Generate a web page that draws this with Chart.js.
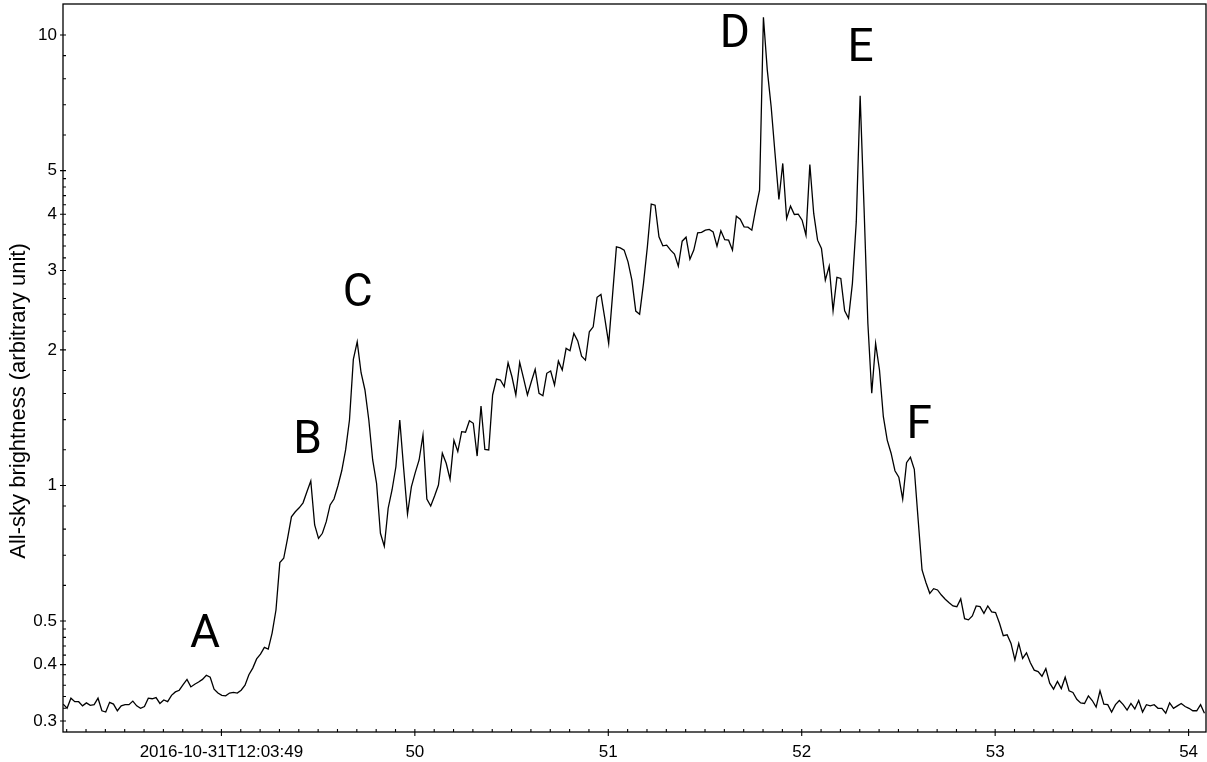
<!DOCTYPE html>
<html>
<head>
<meta charset="utf-8">
<script src="https://cdn.jsdelivr.net/npm/chart.js@4.4.1/dist/chart.umd.min.js"></script>
<style>
  html, body { margin: 0; padding: 0; background: #fff; }
  #wrap { width: 1207px; height: 762px; }
</style>
</head>
<body>
<div id="wrap"><canvas id="lc" width="1207" height="762"></canvas></div>
<script>
// Light curve sampling: seconds after 2016-10-31T12:03:00, one sample every 20 ms
const sampleStart = 48.182;
const sampleStep = 0.02;

// All-sky brightness (arbitrary unit), one value per sample
const brightness = [
  0.327, 0.320, 0.337, 0.331, 0.331, 0.324, 0.329, 0.325, 0.326, 0.337,
  0.316, 0.314, 0.330, 0.327, 0.316, 0.324, 0.326, 0.326, 0.332, 0.324,
  0.320, 0.323, 0.337, 0.336, 0.338, 0.328, 0.334, 0.331, 0.342, 0.348,
  0.351, 0.361, 0.371, 0.357, 0.362, 0.366, 0.371, 0.379, 0.375, 0.353,
  0.346, 0.342, 0.341, 0.346, 0.347, 0.346, 0.351, 0.360, 0.380, 0.393,
  0.412, 0.422, 0.437, 0.433, 0.470, 0.529, 0.674, 0.689, 0.763, 0.852,
  0.874, 0.892, 0.915, 0.968, 1.023, 0.817, 0.763, 0.783, 0.831, 0.905,
  0.933, 0.997, 1.078, 1.199, 1.397, 1.905, 2.084, 1.779, 1.629, 1.397,
  1.139, 1.011, 0.783, 0.733, 0.890, 0.977, 1.100, 1.397, 1.092, 0.864,
  0.993, 1.068, 1.139, 1.294, 0.933, 0.900, 0.947, 1.002, 1.179, 1.120,
  1.032, 1.259, 1.189, 1.316, 1.313, 1.392, 1.374, 1.162, 1.501, 1.202,
  1.199, 1.588, 1.722, 1.714, 1.657, 1.872, 1.743, 1.588, 1.876, 1.729,
  1.588, 1.699, 1.810, 1.602, 1.582, 1.774, 1.795, 1.671, 1.888, 1.804,
  2.015, 1.991, 2.176, 2.094, 1.937, 1.898, 2.194, 2.250, 2.616, 2.655,
  2.349, 2.067, 2.646, 3.386, 3.369, 3.330, 3.136, 2.857, 2.438, 2.400,
  2.809, 3.386, 4.212, 4.191, 3.564, 3.404, 3.416, 3.330, 3.263, 3.068,
  3.486, 3.558, 3.180, 3.330, 3.637, 3.646, 3.688, 3.701, 3.656, 3.399,
  3.675, 3.513, 3.504, 3.330, 3.962, 3.902, 3.750, 3.744, 3.688, 4.106,
  4.525, 10.95, 8.360, 6.929, 5.459, 4.315, 5.187, 3.916, 4.170, 3.996,
  4.002, 3.881, 3.595, 5.160, 4.017, 3.504, 3.359, 2.857, 3.068, 2.441,
  2.897, 2.881, 2.441, 2.349, 2.809, 3.847, 7.331, 4.155, 2.289, 1.602,
  2.067, 1.804, 1.421, 1.261, 1.179, 1.078, 1.043, 0.932, 1.123, 1.155,
  1.086, 0.838, 0.649, 0.609, 0.576, 0.590, 0.586, 0.571, 0.559, 0.549,
  0.540, 0.538, 0.560, 0.506, 0.503, 0.513, 0.540, 0.538, 0.520, 0.540,
  0.524, 0.522, 0.495, 0.464, 0.466, 0.446, 0.410, 0.446, 0.413, 0.425,
  0.404, 0.389, 0.386, 0.377, 0.392, 0.364, 0.353, 0.367, 0.354, 0.375,
  0.350, 0.347, 0.335, 0.329, 0.328, 0.341, 0.333, 0.322, 0.350, 0.327,
  0.326, 0.314, 0.326, 0.333, 0.326, 0.317, 0.328, 0.319, 0.333, 0.314,
  0.326, 0.324, 0.326, 0.320, 0.320, 0.312, 0.329, 0.320, 0.324, 0.328,
  0.323, 0.320, 0.316, 0.316, 0.326, 0.312
];

// Axis ticks
const xTickValues = [49, 50, 51, 52, 53, 54];
const xTickLabels = ['2016-10-31T12:03:49', '50', '51', '52', '53', '54'];
const yTickValues = [0.3, 0.4, 0.5, 1, 2, 3, 4, 5, 10];
const yTickLabels = ['0.3', '0.4', '0.5', '1', '2', '3', '4', '5', '10'];
const yMinorTicks = [0.32, 0.34, 0.36, 0.38, 0.42, 0.44, 0.46, 0.48, 0.6, 0.7, 0.8, 0.9,
  1.2, 1.4, 1.6, 1.8, 2.2, 2.4, 2.6, 2.8, 3.2, 3.4, 3.6, 3.8, 4.2, 4.4, 4.6, 4.8, 6, 7, 8, 9];
const yAxisTitle = 'All-sky brightness (arbitrary unit)';

// Flash events marked on the curve
const eventLetters = ['A', 'B', 'C', 'D', 'E', 'F'];
const eventTimes = [48.915, 49.446, 49.704, 51.654, 52.304, 52.608];
const eventLevels = [0.438, 1.182, 2.508, 9.42, 8.755, 1.272];

const xMin = 48.181, xMax = 54.09;
const yMin = 0.2835, yMax = 11.72;

// minor x ticks every 0.1 s between the labelled seconds
const xMinorTicks = [];
for (let k = Math.ceil(xMin * 10); k <= Math.floor(xMax * 10); k++) {
  if (k % 10 !== 0) xMinorTicks.push(k / 10);
}

const points = brightness.map((v, i) => ({ x: sampleStart + i * sampleStep, y: v }));

const axisFont = { family: 'Liberation Sans, Arial, sans-serif', size: 17 };

// box around the plot, tick marks and the rotated y-axis title
const axesFrame = {
  id: 'axesFrame',
  afterDraw(chart) {
    const { ctx, chartArea: a } = chart;
    const xs = chart.scales.x, ys = chart.scales.y;
    ctx.save();
    ctx.strokeStyle = '#000';
    ctx.lineWidth = 1.3;
    ctx.strokeRect(a.left, a.top, a.right - a.left, a.bottom - a.top);
    ctx.lineWidth = 1.1;
    ctx.beginPath();
    yTickValues.forEach(v => {
      const py = ys.getPixelForValue(v);
      ctx.moveTo(a.left - 3, py); ctx.lineTo(a.left + 3, py);
    });
    yMinorTicks.forEach(v => {
      const py = ys.getPixelForValue(v);
      ctx.moveTo(a.left, py); ctx.lineTo(a.left + 3, py);
    });
    xTickValues.forEach(v => {
      const px = xs.getPixelForValue(v);
      ctx.moveTo(px, a.bottom - 3); ctx.lineTo(px, a.bottom + 4);
    });
    xMinorTicks.forEach(v => {
      const px = xs.getPixelForValue(v);
      ctx.moveTo(px, a.bottom - 3); ctx.lineTo(px, a.bottom);
    });
    ctx.stroke();

    // y-axis title, centred a little below the middle of the plot
    ctx.translate(19, (a.top + a.bottom) / 2 + 33);
    ctx.rotate(-Math.PI / 2);
    ctx.fillStyle = '#000';
    ctx.font = '22px "Liberation Sans", Arial, sans-serif';
    ctx.textAlign = 'center';
    ctx.textBaseline = 'middle';
    ctx.fillText(yAxisTitle, 0, 0);
    ctx.restore();
  }
};

// letters naming the flash events
const eventLabels = {
  id: 'eventLabels',
  afterDatasetsDraw(chart) {
    const { ctx } = chart;
    const xs = chart.scales.x, ys = chart.scales.y;
    ctx.save();
    ctx.fillStyle = '#000';
    ctx.font = '46px Roboto, "Noto Sans", sans-serif';
    ctx.textAlign = 'center';
    ctx.textBaseline = 'alphabetic';
    eventLetters.forEach((t, i) => {
      ctx.fillText(t, xs.getPixelForValue(eventTimes[i]), ys.getPixelForValue(eventLevels[i]));
    });
    ctx.restore();
  }
};

new Chart(document.getElementById('lc'), {
  type: 'line',
  data: {
    datasets: [{
      data: points,
      borderColor: '#000',
      borderWidth: 1.3,
      pointRadius: 0,
      tension: 0,
      fill: false
    }]
  },
  options: {
    responsive: false,
    animation: false,
    devicePixelRatio: 1,
    layout: { padding: { top: 4, right: 1, left: 0, bottom: 0 } },
    plugins: { legend: { display: false }, tooltip: { enabled: false } },
    scales: {
      x: {
        type: 'linear',
        min: xMin,
        max: xMax,
        grid: { display: false, drawTicks: false },
        border: { display: false },
        afterBuildTicks: s => { s.ticks = xTickValues.map(v => ({ value: v })); },
        afterFit: s => { s.height = 30; s.paddingLeft = 0; s.paddingRight = 0; },
        ticks: {
          autoSkip: false,
          maxRotation: 0,
          padding: 10,
          color: '#000',
          font: axisFont,
          callback: v => xTickLabels[xTickValues.indexOf(v)]
        }
      },
      y: {
        type: 'logarithmic',
        min: yMin,
        max: yMax,
        grid: { display: false, drawTicks: false },
        border: { display: false },
        afterBuildTicks: s => { s.ticks = yTickValues.map(v => ({ value: v })); },
        afterFit: s => { s.width = 63; s.paddingTop = 0; s.paddingBottom = 0; },
        ticks: {
          autoSkip: false,
          padding: 6,
          color: '#000',
          font: axisFont,
          callback: v => yTickLabels[yTickValues.indexOf(v)]
        }
      }
    }
  },
  plugins: [axesFrame, eventLabels]
});
</script>
</body>
</html>
